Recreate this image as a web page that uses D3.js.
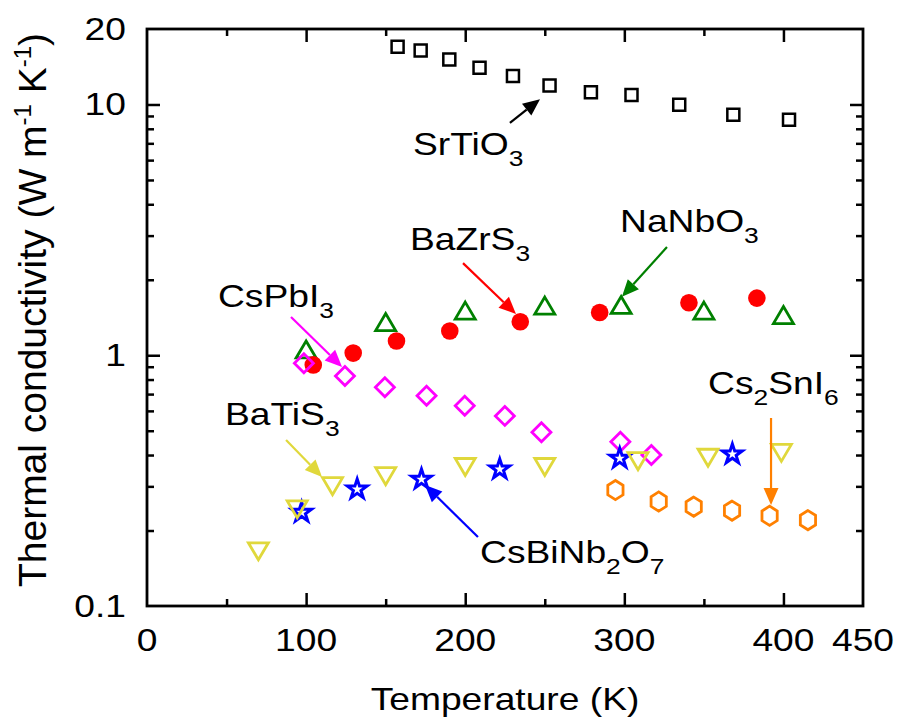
<!DOCTYPE html>
<html>
<head>
<meta charset="utf-8">
<script src="https://cdn.jsdelivr.net/npm/d3@7"></script>
<style>
  html, body { margin: 0; padding: 0; background: #fff; }
  svg text { font-family: "Liberation Sans", Arial, sans-serif; fill: #000; }
</style>
</head>
<body>
<svg id="chart" width="899" height="721"></svg>
<script>
// ---- data: temperature (K) and thermal conductivity (W m^-1 K^-1) ----
const srtioT  = [157.5, 172, 190, 209, 230, 253, 279, 304.5, 334.5, 368.5, 403.5];
const srtioK  = [17.0, 16.4, 15.1, 14.0, 13.0, 11.9, 11.2, 10.9, 9.97, 9.1, 8.7];

const nanboT  = [100, 150, 200, 250, 298, 350, 400];
const nanboK  = [1.05, 1.35, 1.50, 1.57, 1.58, 1.50, 1.44];

const bazrsT  = [104.5, 129.6, 156.8, 190.3, 234.6, 284.5, 340.6, 383.3];
const bazrsK  = [0.915, 1.02, 1.14, 1.25, 1.36, 1.48, 1.62, 1.69];

const cspbiT  = [98.6, 124.4, 149.5, 175.7, 199.7, 224.9, 247.9, 297.5, 317];
const cspbiK  = [0.929, 0.827, 0.745, 0.690, 0.629, 0.573, 0.493, 0.452, 0.400];

const batisT  = [70, 94.4, 116.6, 150, 200, 250, 308.6, 352.6, 398.7];
const batisK  = [0.166, 0.244, 0.302, 0.331, 0.360, 0.360, 0.380, 0.392, 0.410];

const csbinbT = [97.2, 132.1, 172.5, 221.7, 297.1, 367.9];
const csbinbK = [0.236, 0.292, 0.320, 0.351, 0.388, 0.403];

const cssniT  = [294.4, 321.6, 343.6, 367.7, 391.3, 415.4];
const cssniK  = [0.290, 0.261, 0.249, 0.240, 0.229, 0.220];

const xTickLabels = ["0", "100", "200", "300", "400", "450"];
const xTickValues = [0, 100, 200, 300, 400, 450];
const yTickLabels = ["20", "10", "1", "0.1"];
const yTickValues = [20, 10, 1, 0.1];

// ---- layout ----
const svg = d3.select("#chart");
const plotL = 147, plotR = 863, plotT = 29, plotB = 606;
const x = d3.scaleLinear().domain([0, 450]).range([plotL, plotR]);
const y = d3.scaleLog().domain([0.1, 20]).range([plotB, plotT]);
const SX = 1.2;          // horizontal widening of the lettering
const FS = 31;           // main font size

// ---- axes: inward ticks on all four sides ----
function styleAxis(g) {
  g.select(".domain").remove();
  g.selectAll(".tick line").attr("stroke", "#000").attr("stroke-width", 2.5);
  g.selectAll(".tick text").remove();
}
const xMajor = [100, 200, 300, 400], xMinor = [50, 150, 250, 350];
const yMajor = [1, 10];
const yMinor = [0.2,0.3,0.4,0.5,0.6,0.7,0.8,0.9,2,3,4,5,6,7,8,9];

svg.append("g").attr("transform", `translate(0,${plotB})`)
  .call(d3.axisBottom(x).tickValues(xMajor).tickSize(-13)).call(styleAxis);
svg.append("g").attr("transform", `translate(0,${plotB})`)
  .call(d3.axisBottom(x).tickValues(xMinor).tickSize(-7)).call(styleAxis);
svg.append("g").attr("transform", `translate(0,${plotT})`)
  .call(d3.axisTop(x).tickValues(xMajor).tickSize(-13)).call(styleAxis);
svg.append("g").attr("transform", `translate(0,${plotT})`)
  .call(d3.axisTop(x).tickValues(xMinor).tickSize(-7)).call(styleAxis);
svg.append("g").attr("transform", `translate(${plotL},0)`)
  .call(d3.axisLeft(y).tickValues(yMajor).tickSize(-13)).call(styleAxis);
svg.append("g").attr("transform", `translate(${plotL},0)`)
  .call(d3.axisLeft(y).tickValues(yMinor).tickSize(-7)).call(styleAxis);
svg.append("g").attr("transform", `translate(${plotR},0)`)
  .call(d3.axisRight(y).tickValues(yMajor).tickSize(-13)).call(styleAxis);
svg.append("g").attr("transform", `translate(${plotR},0)`)
  .call(d3.axisRight(y).tickValues(yMinor).tickSize(-7)).call(styleAxis);

svg.append("rect")
  .attr("x", plotL).attr("y", plotT)
  .attr("width", plotR - plotL).attr("height", plotB - plotT)
  .attr("fill", "none").attr("stroke", "#000").attr("stroke-width", 2.8);

// ---- text helper: parts like ["SrTiO", {sub:"3"}] ----
function label(px, py, parts, anchor, size) {
  const t = svg.append("text")
    .attr("transform", `translate(${px},${py}) scale(${SX},1)`)
    .attr("text-anchor", anchor || "start")
    .attr("font-size", size || FS);
  let shifted = 0;
  parts.forEach(p => {
    if (typeof p === "string") {
      t.append("tspan").attr("dy", -shifted).text(p);
      shifted = 0;
    } else {
      t.append("tspan").attr("dy", 11 - shifted).attr("font-size", 22).text(p.sub);
      shifted = 11;
    }
  });
  return t;
}

// tick labels
xTickValues.forEach((v, i) => label(x(v), 651, [xTickLabels[i]], "middle"));
yTickValues.forEach((v, i) => label(126, y(v) + 11, [yTickLabels[i]], "end"));

// axis titles
label((plotL + plotR) / 2, 710, ["Temperature (K)"], "middle");
const yt = svg.append("text")
  .attr("transform", "translate(46,310) rotate(-90)")
  .attr("text-anchor", "middle")
  .attr("font-size", 39);
yt.append("tspan").text("Thermal conductivity (W m");
yt.append("tspan").attr("dy", -15).attr("font-size", 24).text("-1");
yt.append("tspan").attr("dy", 15).text(" K");
yt.append("tspan").attr("dy", -15).attr("font-size", 24).text("-1");
yt.append("tspan").attr("dy", 15).text(")");

// ---- marker shapes ----
const shapes = {
  square: "M-6,-6H6V6H-6Z",
  triUp: "M0,-9L10,8H-10Z",
  triDown: "M-10,-8H10L0,9Z",
  diamond: "M0,-9.5L9.5,0L0,9.5L-9.5,0Z",
  hexagon: d3.range(6).map(i => {
    const a = Math.PI / 2 + i * Math.PI / 3;
    return (i ? "L" : "M") + (8.8 * Math.cos(a)).toFixed(2) + "," + (-9.6 * Math.sin(a)).toFixed(2);
  }).join("") + "Z",
  star: d3.symbol(d3.symbolStar, 120)()
};

function series(T, K, shape, stroke, fill, sw) {
  svg.append("g").selectAll("path")
    .data(T.map((t, i) => [t, K[i]]))
    .join("path")
    .attr("transform", d => `translate(${x(d[0])},${y(d[1])})`)
    .attr("d", shapes[shape])
    .attr("fill", fill)
    .attr("stroke", stroke)
    .attr("stroke-width", sw)
    .attr("stroke-linejoin", "miter");
}

const RED = "#ff0000", GREEN = "#008000", MAGENTA = "#ff00ff",
      YELLOW = "#e0d83c", BLUE = "#0000ff", ORANGE = "#ff8000";

series(srtioT, srtioK, "square", "#000", "none", 2.5);
series(nanboT, nanboK, "triUp", GREEN, "none", 2.8);
svg.append("g").selectAll("circle")
  .data(bazrsT.map((t, i) => [t, bazrsK[i]]))
  .join("circle")
  .attr("cx", d => x(d[0])).attr("cy", d => y(d[1]))
  .attr("r", 8.8).attr("fill", RED);
series(cssniT, cssniK, "hexagon", ORANGE, "none", 2.8);
series(cspbiT, cspbiK, "diamond", MAGENTA, "none", 2.8);
series(csbinbT, csbinbK, "star", BLUE, "#fff", 3);
series(batisT, batisK, "triDown", YELLOW, "none", 2.8);

// ---- annotations (positions in data units) ----
function arrow(t1, k1, t2, k2, color) {
  const x1 = x(t1), y1 = y(k1), x2 = x(t2), y2 = y(k2);
  const a = Math.atan2(y2 - y1, x2 - x1);
  const L = 17, W = 7.5;
  const bx = x2 - L * Math.cos(a), by = y2 - L * Math.sin(a);
  svg.append("line")
    .attr("x1", x1).attr("y1", y1).attr("x2", bx).attr("y2", by)
    .attr("stroke", color).attr("stroke-width", 2.2);
  svg.append("path")
    .attr("d", `M${x2},${y2}L${bx - W * Math.sin(a)},${by + W * Math.cos(a)}` +
               `L${bx + W * Math.sin(a)},${by - W * Math.cos(a)}Z`)
    .attr("fill", color);
}

label(x(167.2), y(6.29), ["SrTiO", {sub: "3"}]);
arrow(228.1, 8.44, 247.0, 10.5, "#000");

label(x(165.3), y(2.63), ["BaZrS", {sub: "3"}]);
arrow(198.6, 2.33, 231.9, 1.46, RED);

label(x(297.3), y(3.10), ["NaNbO", {sub: "3"}]);
arrow(326.8, 2.70, 298.5, 1.71, GREEN);

label(x(44.6), y(1.557), ["CsPbI", {sub: "3"}]);
arrow(90.5, 1.42, 122.6, 0.898, MAGENTA);

label(x(49.0), y(0.527), ["BaTiS", {sub: "3"}]);
arrow(87.4, 0.459, 110.0, 0.327, YELLOW);

label(x(209.3), y(0.1484), ["CsBiNb", {sub: "2"}, "O", {sub: "7"}]);
arrow(208.0, 0.1884, 174.7, 0.304, BLUE);

label(x(352.6), y(0.70), ["Cs", {sub: "2"}, "SnI", {sub: "6"}]);
arrow(392.2, 0.562, 392.2, 0.2528, ORANGE);
</script>
</body>
</html>
